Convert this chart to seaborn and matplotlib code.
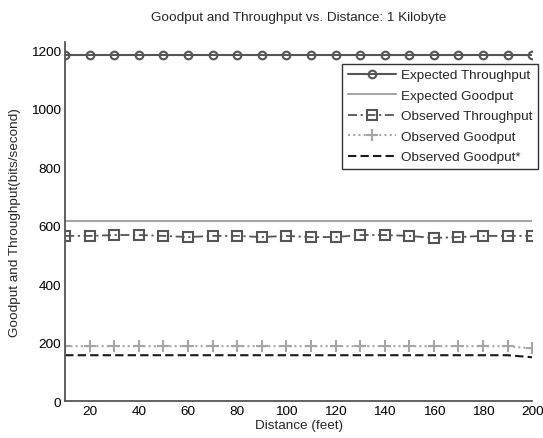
import numpy as np
import pandas as pd
import matplotlib
matplotlib.use("Agg")
import matplotlib.pyplot as plt
import seaborn as sns

distance = [10, 20, 30, 40, 50, 60, 70, 80, 90, 100,
            110, 120, 130, 140, 150, 160, 170, 180, 190, 200]
expected_throughput = [1185] * 20
expected_goodput = [615] * 20
observed_throughput = [565, 565, 568, 568, 565, 561, 565, 565, 561, 565,
                       561, 561, 568, 568, 565, 558, 561, 565, 565, 565]
observed_goodput = [188, 188, 188, 188, 188, 188, 188, 188, 188, 188,
                    188, 188, 188, 188, 188, 188, 188, 188, 188, 180]
observed_goodput_star = [157, 157, 157, 157, 157, 157, 157, 157, 157, 157,
                         157, 157, 157, 157, 157, 157, 157, 157, 157, 150]

sns.set_style("white")
plt.rcParams["font.family"] = ["Liberation Sans", "DejaVu Sans"]

FS = 9.7

fig = plt.figure(figsize=(5.43, 4.39), dpi=100)
ax = fig.add_axes([0.12, 0.084, 0.86, 0.818])

series = [
    ("Expected Throughput", expected_throughput,
     dict(color="#555555", linestyle="-", marker="o", markersize=5.5,
          markerfacecolor="none", markeredgecolor="#555555",
          markeredgewidth=1.5, linewidth=1.5)),
    ("Expected Goodput", expected_goodput,
     dict(color="#a6a6a6", linestyle="-", marker="None", linewidth=1.5)),
    ("Observed Throughput", observed_throughput,
     dict(color="#555555", linestyle=(0, (5, 2, 1.2, 2)), marker="s", markersize=6.5,
          markerfacecolor="none", markeredgecolor="#555555",
          markeredgewidth=1.5, linewidth=1.3)),
    ("Observed Goodput", observed_goodput,
     dict(color="#a6a6a6", linestyle=(0, (1, 1.5)), marker="+", markersize=8,
          markeredgecolor="#a6a6a6", markeredgewidth=1.5, linewidth=1.5)),
    ("Observed Goodput*", observed_goodput_star,
     dict(color="#1a1a1a", linestyle=(0, (4, 2)), marker="None", linewidth=1.5)),
]

handles = []
for name, vals, style in series:
    df = pd.DataFrame({"distance": distance, "value": vals})
    sns.lineplot(data=df, x="distance", y="value", ax=ax, label=name)
    line = ax.lines[-1]
    line.set(**style)
    handles.append(line)

ax.set_xlim(10, 200)
ax.set_ylim(0, 1228)
ax.set_xticks([20, 40, 60, 80, 100, 120, 140, 160, 180, 200])
ax.set_yticks([0, 200, 400, 600, 800, 1000, 1200])

for side in ["top", "right"]:
    ax.spines[side].set_visible(False)
for side in ["left", "bottom"]:
    ax.spines[side].set_color("#555555")
    ax.spines[side].set_linewidth(1.3)
ax.tick_params(direction="in", length=4, width=1, color="#555555",
               labelsize=FS, pad=3, labelcolor="black")

ax.set_title("Goodput and Throughput vs. Distance: 1 Kilobyte", fontsize=FS, pad=16)
ax.set_xlabel("Distance (feet)", fontsize=FS, labelpad=1)
ax.set_ylabel("Goodput and Throughput(bits/second)", fontsize=FS, labelpad=7)

leg = ax.legend(handles=handles, labels=[s[0] for s in series],
                loc="upper right", bbox_to_anchor=(1.013, 0.94), fontsize=FS,
                frameon=True, fancybox=False, borderpad=0.4, labelspacing=0.6,
                handlelength=3.6, handletextpad=0.4, borderaxespad=0)
leg.get_frame().set_edgecolor("black")
leg.get_frame().set_linewidth(1.0)

fig.savefig("out.png", dpi=100)
